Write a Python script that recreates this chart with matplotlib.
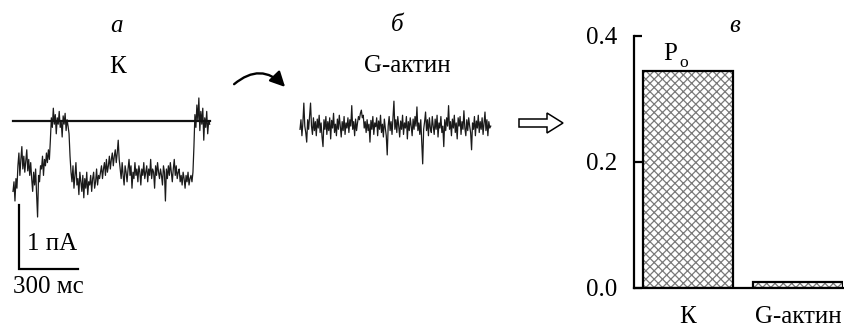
import matplotlib
matplotlib.use("Agg")
import matplotlib.pyplot as plt
from matplotlib.patches import FancyArrowPatch, Polygon
import numpy as np

# ---------------- data ----------------
dt_ms = 5.0
# panel a: single-channel current trace (pA, open level = 0)
trace_a_pA = [
    -1.10, -0.95, -1.25, -0.90, -1.05,
    -0.70, -0.50, -0.85, -0.60, -0.40, -0.75, -0.55, -0.80, -0.62, -0.45, -0.78, -0.60, -0.85, -0.65,
    -0.90, -1.10, -0.80, -1.00, -0.75, -1.15, -1.50, -0.85, -0.95, -0.70,
    -0.75, -0.55, -0.85, -0.60, -0.70, -0.50, -0.65, -0.45, -0.60,
    -0.30,
    0.05, -0.10, 0.20, -0.05, 0.10, -0.20, 0.05, -0.05, 0.15, -0.10,
    0.00, -0.25, 0.08, -0.05, 0.12, -0.15, 0.02, -0.08, -0.20,
    -0.55,
    -0.80, -0.95, -0.70, -1.05, -0.85, -0.65, -1.00, -0.90, -1.15, -0.80,
    -0.95, -1.10, -0.85, -1.20, -0.90, -1.05, -0.80, -1.15, -0.95, -1.00,
    -0.85, -1.10, -0.90, -0.80, -1.05, -0.95, -0.75, -1.00, -0.85, -0.90,
    -0.80, -0.70, -0.90, -0.75, -0.65, -0.85, -0.60, -0.80, -0.70, -0.55,
    -0.75, -0.60, -0.50, -0.70, -0.55, -0.45, -0.65, -0.50, -0.30, -0.60,
    -0.75, -0.90, -0.65, -0.85, -1.00, -0.70, -0.80, -0.95, -0.75, -0.60,
    -0.85, -0.70, -1.05, -0.80, -0.90, -0.65, -0.85, -0.75, -0.95, -0.70,
    -0.80, -1.00, -0.75, -0.85, -0.65, -0.90, -0.80, -0.70, -0.95, -0.75,
    -0.85, -0.60, -0.90, -0.75, -0.80, -1.05, -0.70, -0.85, -0.65, -0.80,
    -0.90, -0.75, -0.85, -1.00, -0.70, -0.80, -1.25, -0.75, -0.90, -0.70,
    -0.85, -0.65, -0.80, -0.95, -0.75, -0.60, -0.85, -0.70, -0.90, -0.80,
    -0.75, -0.95, -0.85, -1.00, -0.80, -0.90, -1.05, -0.85, -0.95, -0.80,
    -1.00, -0.90, -0.85, -0.95, -0.80,
    -0.40,
    0.10, -0.10, 0.25, 0.00, 0.36, -0.15, 0.15, -0.05, 0.20, -0.30,
    0.05, -0.10, 0.15, -0.20, 0.00, -0.05,
]
open_level_pA = 0.0
# panel b: trace with G-actin (pA)
trace_b_pA = [
    -0.10, 0.05, -0.20, 0.00, 0.31, -0.05, -0.15, -0.30, 0.05, -0.10,
    0.10, 0.31, -0.05, -0.18, 0.08, -0.12, 0.02, -0.20, 0.06, -0.08,
    0.12, -0.15, 0.00, -0.22, -0.37, 0.05, -0.10, 0.10, -0.18, 0.02,
    -0.12, 0.08, -0.25, 0.04, -0.08, 0.15, -0.15, -0.02, -0.20, 0.06,
    -0.10, 0.12, -0.05, -0.22, 0.02, -0.12, 0.10, -0.18, 0.00, -0.08,
    0.08, -0.15, 0.05, -0.05, 0.27, -0.10, 0.02, -0.20, 0.06, -0.12,
    0.00, 0.10, 0.05, 0.15, 0.20, 0.08, 0.12, -0.08, 0.02, -0.15,
    0.05, -0.12, -0.02, -0.30, 0.04, -0.10, 0.10, -0.18, 0.00, -0.06,
    0.08, -0.20, 0.03, -0.10, 0.12, -0.15, -0.02, -0.22, 0.06, -0.08,
    -0.20, -0.50, -0.05, 0.10, -0.12, 0.02, -0.18, 0.08, 0.34, -0.10,
    0.05, -0.15, 0.10, -0.05, -0.22, 0.03, -0.10, 0.12, -0.18, 0.00,
    -0.08, 0.10, -0.25, 0.02, -0.12, 0.08, -0.05, -0.20, 0.06, -0.10,
    0.10, -0.05, 0.25, -0.12, 0.00, -0.18, 0.05, -0.30, -0.64, -0.10,
    0.02, 0.17, -0.12, 0.05, -0.20, 0.08, -0.08, -0.15, 0.10, -0.05,
    -0.18, 0.06, -0.10, 0.12, -0.22, 0.00, -0.08, 0.10, -0.15, -0.05,
    -0.37, 0.05, -0.12, 0.08, -0.05, 0.27, -0.10, 0.02, -0.20, 0.06,
    -0.08, 0.12, -0.15, 0.00, -0.25, 0.08, -0.05, 0.10, -0.18, 0.02,
    -0.10, 0.19, -0.08, -0.20, 0.05, -0.12, 0.08, -0.05, -0.15, -0.42,
    0.00, -0.10, 0.10, -0.20, 0.03, -0.08, 0.12, -0.15, 0.02, -0.10,
    0.08, -0.18, 0.00, 0.17, -0.12, 0.05, -0.20, 0.02, -0.08, -0.05,
]
scale_bar_pA = 1.0
scale_bar_ms = 300.0
# panel в: open probability
bar_categories = ["К", "G-актин"]
bar_values = [0.345, 0.01]
bar_yticks = [0.0, 0.2, 0.4]
bar_yticklabels = ["0.0", "0.2", "0.4"]

# ---------------- figure ----------------
W, H = 845, 327
DPI = 100
plt.rcParams["font.family"] = ["Liberation Serif", "DejaVu Serif"]
plt.rcParams["hatch.linewidth"] = 0.9
fig = plt.figure(figsize=(W / DPI, H / DPI), dpi=DPI)

FS = 18


def fx(x):
    return x / W


def fy(y):
    return 1 - y / H


# pixel scale of traces
PX_PER_MS = 59.0 / 300.0
PX_PER_PA = 64.0
Y_OPEN = 121.0


def trace_axes(px_left, px_right, px_t0):
    ax = fig.add_axes([fx(px_left), 0, (px_right - px_left) / W, 1])
    ax.set_xlim((px_left - px_t0) / PX_PER_MS, (px_right - px_t0) / PX_PER_MS)
    ax.set_ylim((Y_OPEN - H) / PX_PER_PA, Y_OPEN / PX_PER_PA)
    ax.axis("off")
    return ax


# panel a
axa = trace_axes(0, 240, 13)
ta = np.arange(len(trace_a_pA)) * dt_ms
axa.plot(ta, trace_a_pA, color="#1a1a1a", lw=0.9)
axa.plot([0, ta[-1]], [open_level_pA, open_level_pA], color="#111", lw=1.6)
# scale bar
sb_t0 = 6 / PX_PER_MS
sb_y0 = (Y_OPEN - 269) / PX_PER_PA
axa.plot([sb_t0, sb_t0, sb_t0 + scale_bar_ms],
         [sb_y0 + scale_bar_pA, sb_y0, sb_y0], color="black", lw=1.6,
         solid_joinstyle="miter")

# panel b
axb = trace_axes(290, 510, 300)
tb = np.arange(len(trace_b_pA)) * (dt_ms * 193.0 / 198.0)
axb.plot(tb, np.array(trace_b_pA) - 0.03, color="#1a1a1a", lw=0.9)

# panel в: bar chart
axc = fig.add_axes([fx(634), fy(288), (843 - 634) / W, (288 - 36) / H])
xpos = np.arange(len(bar_categories))
bw = 90 / 110
axc.bar(xpos, bar_values, width=bw, facecolor="white", edgecolor="#7a7a7a",
        hatch="xxxx", lw=0, zorder=2)
axc.bar(xpos, bar_values, width=bw, fill=False, edgecolor="black", lw=1.6,
        zorder=3)
axc.set_xlim(-54 / 110, 1 + 45 / 110)
axc.set_ylim(0, 0.4)
for s in ["top", "right"]:
    axc.spines[s].set_visible(False)
for s in ["left", "bottom"]:
    axc.spines[s].set_linewidth(1.6)
axc.spines["bottom"].set_zorder(4)
axc.set_yticks(bar_yticks, bar_yticklabels)
axc.tick_params(axis="y", direction="in", length=6, width=1.6,
                labelsize=FS, pad=12)
axc.set_xticks(xpos, bar_categories)
axc.tick_params(axis="x", length=0, labelsize=FS, pad=13)
axc.patch.set_visible(False)

# ---------------- texts ----------------
fig.text(fx(117), fy(32), "а", fontsize=FS, style="italic", ha="center", va="baseline")
fig.text(fx(118), fy(73), "К", fontsize=FS, ha="center", va="baseline")
fig.text(fx(397), fy(31), "б", fontsize=FS, style="italic", ha="center", va="baseline")
fig.text(fx(407), fy(72), "G-актин", fontsize=FS, ha="center", va="baseline")
fig.text(fx(735), fy(32), "в", fontsize=FS, style="italic", ha="center", va="baseline")
fig.text(fx(663), fy(60), "P", fontsize=FS, ha="left", va="baseline")
fig.text(fx(679), fy(67), "o", fontsize=FS * 0.7, ha="left", va="baseline")
fig.text(fx(52), fy(250), "1 пА", fontsize=FS, ha="center", va="baseline")
fig.text(fx(48), fy(293), "300 мс", fontsize=FS, ha="center", va="baseline")

# curved arrow a -> б
arr = FancyArrowPatch((fx(232), fy(86)), (fx(287), fy(89)),
                      transform=fig.transFigure,
                      connectionstyle="arc3,rad=-0.5",
                      arrowstyle="-|>,head_length=9,head_width=4.5",
                      color="black", lw=1.7)
fig.add_artist(arr)

# open arrow
pts = [(519, 119), (547, 119), (547, 113), (563, 123), (547, 133),
       (547, 127), (519, 127)]
poly = Polygon([(fx(x), fy(y)) for x, y in pts], closed=True,
               transform=fig.transFigure, facecolor="white",
               edgecolor="black", lw=1.1)
fig.add_artist(poly)

fig.savefig("out.png", dpi=DPI)
